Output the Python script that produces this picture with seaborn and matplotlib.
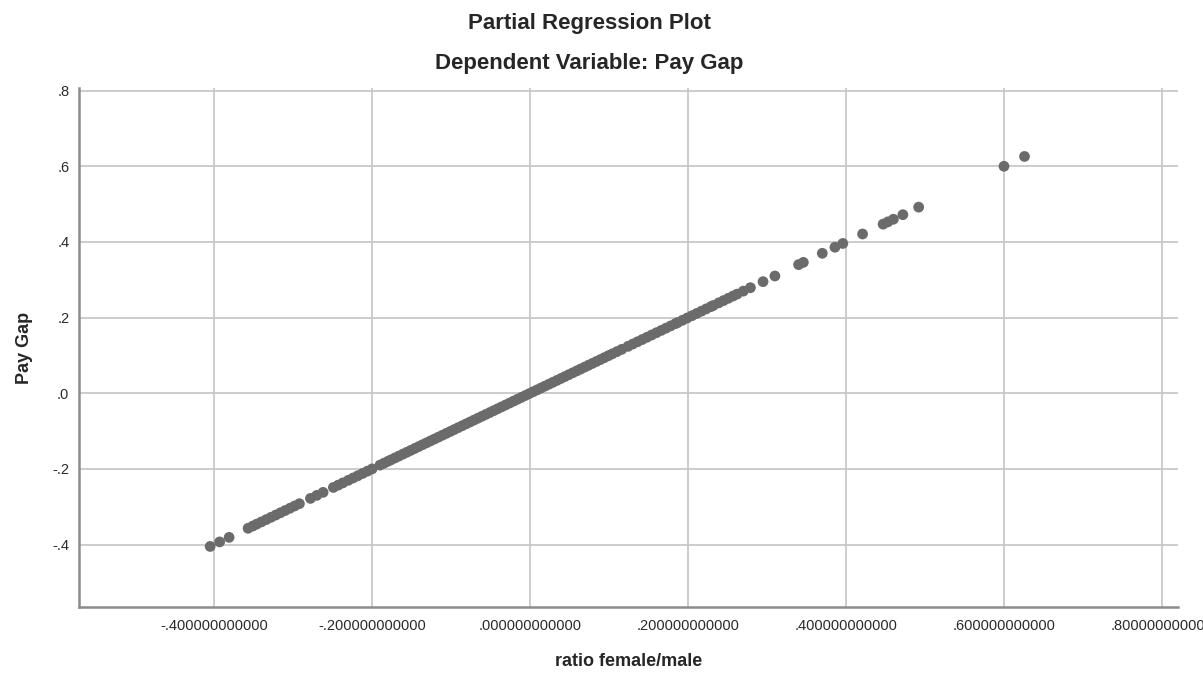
import numpy as np
import pandas as pd
import matplotlib
matplotlib.use('Agg')
import matplotlib.pyplot as plt
from matplotlib.ticker import FuncFormatter, FixedLocator
import seaborn as sns

# values (partial residuals)
ratio_female_male = [
    -0.405, -0.393, -0.381,
    -0.357, -0.351, -0.346, -0.340, -0.334, -0.328, -0.322, -0.316, -0.310, -0.304, -0.298, -0.292,
    -0.278, -0.270, -0.262,
    -0.249, -0.243, -0.237, -0.230, -0.224, -0.218, -0.212, -0.206, -0.200,
    -0.190, -0.185, -0.180, -0.176, -0.171, -0.166, -0.161, -0.156, -0.151, -0.146,
    -0.141, -0.136, -0.131, -0.126, -0.121, -0.116, -0.111, -0.106, -0.101, -0.096,
    -0.091, -0.086, -0.081, -0.076, -0.071, -0.066, -0.061, -0.056, -0.051, -0.046,
    -0.041, -0.036, -0.031, -0.026, -0.021, -0.016, -0.011, -0.006, -0.001, 0.004,
    0.009, 0.014, 0.019, 0.024, 0.029, 0.034, 0.039, 0.044, 0.049, 0.054,
    0.059, 0.064, 0.069, 0.074, 0.079, 0.084, 0.089, 0.094, 0.099, 0.104, 0.110, 0.116,
    0.124, 0.130, 0.136, 0.142, 0.148, 0.154, 0.160, 0.166, 0.172, 0.178, 0.184, 0.187,
    0.193, 0.199, 0.205, 0.211, 0.217, 0.223, 0.229, 0.232,
    0.239, 0.245, 0.251, 0.257, 0.262,
    0.270, 0.279, 0.295, 0.310, 0.340, 0.346, 0.370, 0.386, 0.396,
    0.421, 0.447, 0.453, 0.460, 0.472, 0.492, 0.600, 0.626,
]
pay_gap = [
    -0.405, -0.393, -0.381,
    -0.357, -0.351, -0.346, -0.340, -0.334, -0.328, -0.322, -0.316, -0.310, -0.304, -0.298, -0.292,
    -0.278, -0.270, -0.262,
    -0.249, -0.243, -0.237, -0.230, -0.224, -0.218, -0.212, -0.206, -0.200,
    -0.190, -0.185, -0.180, -0.176, -0.171, -0.166, -0.161, -0.156, -0.151, -0.146,
    -0.141, -0.136, -0.131, -0.126, -0.121, -0.116, -0.111, -0.106, -0.101, -0.096,
    -0.091, -0.086, -0.081, -0.076, -0.071, -0.066, -0.061, -0.056, -0.051, -0.046,
    -0.041, -0.036, -0.031, -0.026, -0.021, -0.016, -0.011, -0.006, -0.001, 0.004,
    0.009, 0.014, 0.019, 0.024, 0.029, 0.034, 0.039, 0.044, 0.049, 0.054,
    0.059, 0.064, 0.069, 0.074, 0.079, 0.084, 0.089, 0.094, 0.099, 0.104, 0.110, 0.116,
    0.124, 0.130, 0.136, 0.142, 0.148, 0.154, 0.160, 0.166, 0.172, 0.178, 0.184, 0.187,
    0.193, 0.199, 0.205, 0.211, 0.217, 0.223, 0.229, 0.232,
    0.239, 0.245, 0.251, 0.257, 0.262,
    0.270, 0.279, 0.295, 0.310, 0.340, 0.346, 0.370, 0.386, 0.396,
    0.421, 0.447, 0.453, 0.460, 0.472, 0.492, 0.600, 0.626,
]
x_ticks = [-0.4, -0.2, 0.0, 0.2, 0.4, 0.6, 0.8]
y_ticks = [-0.4, -0.2, 0.0, 0.2, 0.4, 0.6, 0.8]

df = pd.DataFrame({'ratio female/male': ratio_female_male, 'Pay Gap': pay_gap})

sns.set_style('white')
plt.rcParams['font.family'] = ['Liberation Sans', 'DejaVu Sans']

fig = plt.figure(figsize=(12.03, 6.82), dpi=100)
ax = fig.add_axes([0.0657, 0.110, 0.9133, 0.761])

sns.scatterplot(data=df, x='ratio female/male', y='Pay Gap', color='#6b6b6b',
                s=60, edgecolor='none', linewidth=0, ax=ax, zorder=3)

ax.set_xlim(-0.571, 0.82)
ax.set_ylim(-0.565, 0.807)
ax.xaxis.set_major_locator(FixedLocator(x_ticks))
ax.yaxis.set_major_locator(FixedLocator(y_ticks))


def spss_fmt(decimals):
    def f(v, pos):
        s = f'{v:.{decimals}f}'
        if s.startswith('-0'):
            s = '-' + s[2:]
        elif s.startswith('0'):
            s = s[1:]
        return s
    return FuncFormatter(f)


ax.xaxis.set_major_formatter(spss_fmt(12))
ax.yaxis.set_major_formatter(spss_fmt(1))

ax.grid(True, color='#c8c8c8', linewidth=1.3, zorder=0)
ax.set_axisbelow(True)
for side in ['top', 'right']:
    ax.spines[side].set_visible(False)
for side in ['left', 'bottom']:
    ax.spines[side].set_color('#8c8c8c')
    ax.spines[side].set_linewidth(1.8)

ax.tick_params(axis='both', length=0, labelsize=10.5, labelcolor='#2a2a2a')
ax.tick_params(axis='x', pad=9)
ax.tick_params(axis='y', pad=7)

ax.set_xlabel('ratio female/male', fontsize=13, fontweight='bold', labelpad=14)
ax.set_ylabel('Pay Gap', fontsize=13, fontweight='bold', labelpad=14)

fig.text(0.49, 1 - 23 / 682, 'Partial Regression Plot', ha='center', va='center',
         fontsize=16, fontweight='bold')
fig.text(0.49, 1 - 63 / 682, 'Dependent Variable: Pay Gap', ha='center', va='center',
         fontsize=16, fontweight='bold')

plt.savefig('out.png', dpi=100)
